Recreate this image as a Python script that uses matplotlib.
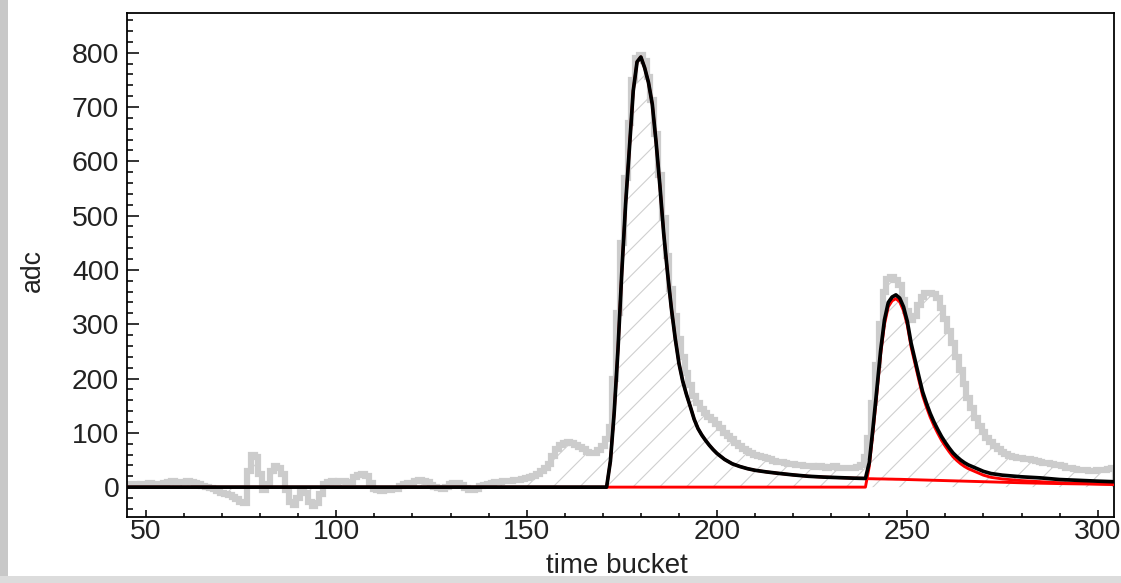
import numpy as np
import matplotlib
matplotlib.use("Agg")
import matplotlib.pyplot as plt
from matplotlib.patches import Rectangle
from matplotlib.ticker import MultipleLocator

# ---------------- data ----------------
first_bucket = 45
# measured adc per time bucket (bins 45 .. 304)
measured_adc = [
    5, 6, 5, 4, 5, 6, 7, 6, 5, 6,
    8, 10, 11, 10, 9, 10, 11, 9, 7, 5,
    3, 1, -1, -4, -8, -10, -12, -14, -18, -22,
    -28, -30, 30, 60, 55, 25, -5, 5, 30, 38,
    35, 25, -5, -28, -32, -20, -5, -10, -28, -35,
    -30, -12, 5, 10, 12, 10, 12, 11, 9, 10,
    18, 22, 24, 20, 8, -3, -6, -7, -6, -5,
    -4, -3, 2, 6, 8, 8, 11, 13, 12, 9,
    4, 0, -2, -3, 0, 5, 8, 7, 4, -2,
    -5, -6, -3, 2, 4, 6, 8, 9, 10, 11,
    12, 12, 13, 14, 15, 17, 18, 20, 25, 30,
    35, 42, 58, 70, 78, 82, 84, 82, 78, 74,
    70, 64, 62, 63, 68, 75, 88, 110, 200, 320,
    450, 570, 670, 750, 790, 796, 785, 755, 712, 650,
    575, 495, 425, 365, 315, 272, 240, 210, 188, 168,
    154, 144, 136, 129, 123, 116, 108, 100, 94, 88,
    82, 76, 71, 67, 63, 60, 58, 56, 54, 51,
    49, 47, 46, 44, 43, 42, 41, 40, 39, 38,
    38, 37, 38, 37, 36, 37, 38, 36, 35, 36,
    35, 36, 37, 40, 55, 90, 155, 225, 300, 360,
    383, 386, 382, 372, 345, 325, 308, 315, 335, 350,
    357, 358, 356, 348, 330, 310, 288, 265, 240, 215,
    190, 165, 145, 128, 113, 101, 91, 83, 76, 70,
    65, 61, 58, 56, 54, 53, 52, 51, 50, 48,
    46, 45, 44, 42, 41, 40, 38, 36, 35, 33,
    32, 31, 31, 30, 30, 31, 31, 32, 34, 35,
]

# fit curves sampled at these time buckets
fit_t = [45, 170,
         171, 172, 173, 174, 175, 176, 177, 178, 179, 180,
         181, 182, 183, 184, 185, 186, 187, 188, 189, 190,
         191, 192, 193, 194, 195, 196, 197, 198, 199, 200,
         202, 204, 206, 208, 210, 213, 216, 220, 224, 228, 232, 236, 239,
         240, 241, 242, 243, 244, 245, 246, 247, 248, 249,
         250, 251, 252, 253, 254, 255, 256, 257, 258, 259,
         260, 261, 262, 263, 264, 265, 266,
         268, 270, 272, 275, 280, 285, 290, 295, 300, 304]

# total fit (black)
fit_total = [0, 0,
             0, 48, 138, 255, 397, 522, 625, 730, 783, 792,
             772, 745, 705, 635, 555, 467, 395, 330, 275, 228,
             195, 170, 148, 125, 108, 96, 86, 77, 69, 62,
             51, 43, 38, 34, 31, 28, 25.5, 22.5, 20, 18.5, 17.5, 16.5, 16,
             45, 110, 180, 252, 308, 340, 350, 354, 348, 332,
             305, 265, 235, 205, 176, 155, 136, 120, 106, 93,
             82, 72, 63, 56, 50, 45, 41,
             35, 29, 25, 22, 19, 17, 14, 12.5, 11, 10]

# first pulse component (red)
pulse1 = [0, 0,
          0, 48, 138, 255, 397, 522, 625, 730, 783, 792,
          772, 745, 705, 635, 555, 467, 395, 330, 275, 228,
          195, 170, 148, 125, 108, 96, 86, 77, 69, 62,
          51, 43, 38, 34, 31, 28, 25.5, 22.5, 20, 18.5, 17.5, 16.5, 16,
          15.5, 15.4, 15.2, 15.1, 15, 14.8, 14.7, 14.5, 14.4, 14.2,
          14, 13.8, 13.6, 13.4, 13.2, 13, 12.8, 12.6, 12.4, 12.2,
          12, 11.8, 11.6, 11.4, 11.2, 11, 10.8,
          10.4, 10, 9.6, 9, 8, 7.2, 6.5, 6, 5.5, 5]

# second pulse component (red)
pulse2 = [0, 0,
          0, 0, 0, 0, 0, 0, 0, 0, 0, 0,
          0, 0, 0, 0, 0, 0, 0, 0, 0, 0,
          0, 0, 0, 0, 0, 0, 0, 0, 0, 0,
          0, 0, 0, 0, 0, 0, 0, 0, 0, 0, 0, 0, 0,
          38, 103, 173, 245, 300, 332, 343, 347, 341, 325,
          298, 258, 228, 198, 169, 148, 129, 113, 99, 86,
          75, 65, 56, 49, 43, 38, 34,
          28, 22, 18, 15, 12, 10, 8, 7, 6, 5]

x_ticks = [50, 100, 150, 200, 250, 300]
y_ticks = [0, 100, 200, 300, 400, 500, 600, 700, 800]

# ---------------- figure ----------------
DPI = 80
W, H = 1121, 583
plt.rcParams['font.family'] = ['Liberation Sans', 'DejaVu Sans']
fig = plt.figure(figsize=(W / DPI, H / DPI), dpi=DPI)
fig.patch.set_facecolor('white')

L, R, T, B = 127, 1114, 13, 517
ax = fig.add_axes([L / W, 1 - B / H, (R - L) / W, (B - T) / H])

t_meas = np.arange(first_bucket, first_bucket + len(measured_adc))
meas = np.array(measured_adc, dtype=float)
edges = np.append(t_meas - 0.5, t_meas[-1] + 0.5)

# hatched area under measured histogram
ax.fill_between(t_meas, meas, 0, step='mid', facecolor='none',
                edgecolor='#cfcfcf', hatch='/', linewidth=0, zorder=1)
# measured histogram outline
ax.stairs(meas, edges, color='#cccccc', linewidth=5.6, zorder=2)

ft = np.array(fit_t, dtype=float)
p1 = np.array(pulse1, dtype=float)
p2 = np.array(pulse2, dtype=float)
tot = np.array(fit_total, dtype=float)

ax.plot(ft, p1, color='#ff0000', linewidth=2.6, zorder=3)
m2 = ft >= 171
ax.plot(ft[m2], p2[m2], color='#ff0000', linewidth=2.6, zorder=3)
ax.plot(ft, tot, color='black', linewidth=3.3, zorder=4)

ax.set_xlim(45, 304.3)
ax.set_ylim(-55, 873)

ax.set_xticks(x_ticks)
ax.set_yticks(y_ticks)
ax.xaxis.set_minor_locator(MultipleLocator(10))
ax.yaxis.set_minor_locator(MultipleLocator(20))
ax.tick_params(axis='both', which='both', direction='in',
               top=False, right=False, color='black', width=1.4)
ax.tick_params(axis='y', which='major', length=11, pad=7, labelsize=25.5)
ax.tick_params(axis='y', which='minor', length=5.5)
ax.tick_params(axis='x', which='major', length=6.5, pad=2, labelsize=25.5)
ax.tick_params(axis='x', which='minor', length=3.5)
for lab in ax.get_xticklabels() + ax.get_yticklabels():
    lab.set_color('#222222')
for s in ax.spines.values():
    s.set_linewidth(1.6)
    s.set_color('black')

fig.text(33 / W, 1 - 270 / H, 'adc', rotation=90, ha='center', va='center',
         fontsize=24, color='#222222')
fig.text(617 / W, 1 - 566 / H, 'time bucket', ha='center', va='center',
         fontsize=25, color='#222222')

# window border strips
fig.patches.append(Rectangle((0, 0), 8 / W, 1, transform=fig.transFigure,
                             facecolor='#c8c8c8', edgecolor='none', zorder=10))
fig.patches.append(Rectangle((0, 0), 1, 7 / H, transform=fig.transFigure,
                             facecolor='#dcdcdc', edgecolor='none', zorder=10))

fig.savefig('out.png', dpi=DPI)
